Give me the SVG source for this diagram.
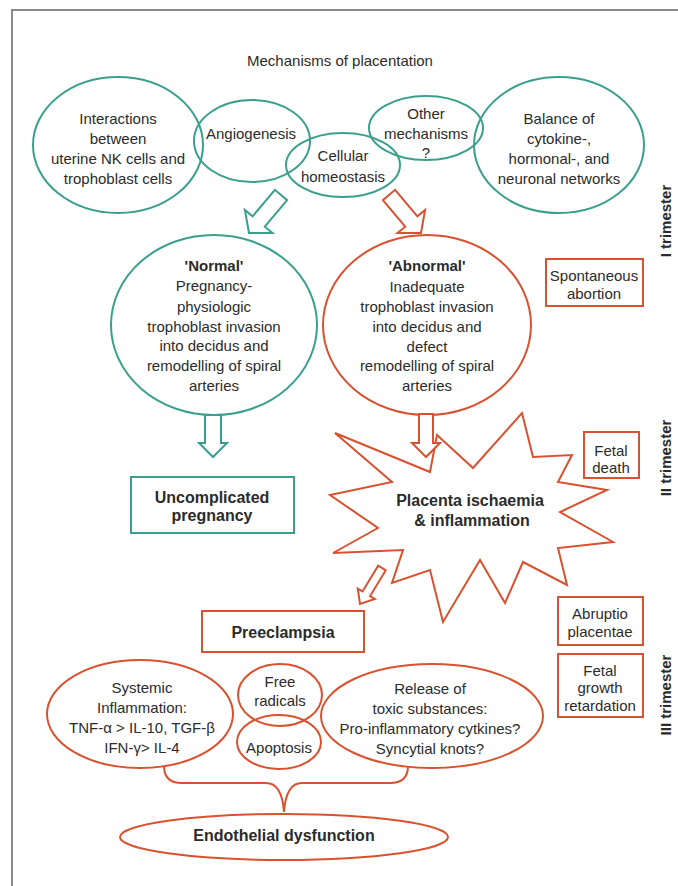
<svg xmlns="http://www.w3.org/2000/svg" width="678" height="886" viewBox="0 0 678 886">
<style>
text{font-family:"Liberation Sans",Arial,sans-serif;fill:#2b2b2b;text-anchor:middle;dominant-baseline:central;font-size:15px}
.b{font-weight:bold;font-size:16px}
.tri{font-weight:bold;font-size:15px}
.teal{fill:none;stroke:#3a9f8e;stroke-width:2}
.red{fill:none;stroke:#d8522f;stroke-width:2}
.redw{fill:#fff;stroke:#d8522f;stroke-width:2}
.tealw{fill:#fff;stroke:#3a9f8e;stroke-width:2}
</style>
<rect width="678" height="886" fill="#fff"/>
<path d="M12,886 L12,10 L678,10" fill="none" stroke="#8a8a8a" stroke-width="2"/>
<text x="340" y="60">Mechanisms of placentation</text>

<g id="interactions">
<ellipse class="teal" cx="118" cy="145" rx="85" ry="68"/>
<text x="118" y="118">Interactions</text>
<text x="118" y="138">between</text>
<text x="118" y="158">uterine NK cells and</text>
<text x="118" y="178">trophoblast cells</text>
</g>
<g id="angiogenesis">
<ellipse class="teal" cx="252" cy="141" rx="58" ry="41"/>
<text x="251" y="133">Angiogenesis</text>
</g>
<g id="cellular">
<ellipse class="teal" cx="343" cy="165" rx="57" ry="32"/>
<text x="343" y="155">Cellular</text>
<text x="343" y="176">homeostasis</text>
</g>
<g id="other">
<ellipse class="teal" cx="426" cy="128" rx="57" ry="32"/>
<text x="426" y="113">Other</text>
<text x="426" y="133">mechanisms</text>
<text x="426" y="152">?</text>
</g>
<g id="balance">
<ellipse class="teal" cx="559" cy="145" rx="85" ry="68"/>
<text x="559" y="118">Balance of</text>
<text x="559" y="138">cytokine-,</text>
<text x="559" y="158">hormonal-, and</text>
<text x="559" y="178">neuronal networks</text>
</g>

<g id="normal">
<ellipse class="teal" cx="214" cy="325" rx="103" ry="90"/>
<text class="b" x="214" y="265" style="font-size:15px">'Normal'</text>
<text x="214" y="285">Pregnancy-</text>
<text x="214" y="306">physiologic</text>
<text x="214" y="326">trophoblast invasion</text>
<text x="214" y="345">into decidus and</text>
<text x="214" y="365">remodelling of spiral</text>
<text x="214" y="385">arteries</text>
</g>
<g id="abnormal">
<ellipse class="red" cx="427" cy="325" rx="104" ry="90"/>
<text class="b" x="427" y="265" style="font-size:15px">'Abnormal'</text>
<text x="427" y="286">Inadequate</text>
<text x="427" y="306">trophoblast invasion</text>
<text x="427" y="326">into decidus and</text>
<text x="427" y="346">defect</text>
<text x="427" y="365">remodelling of spiral</text>
<text x="427" y="385">arteries</text>
</g>

<g id="spontaneous">
<rect class="red" x="546" y="259" width="97" height="47"/>
<text x="594" y="275">Spontaneous</text>
<text x="594" y="293">abortion</text>
</g>

<g id="uncomplicated">
<rect class="teal" x="131" y="477" width="163" height="56"/>
<text class="b" x="212" y="497">Uncomplicated</text>
<text class="b" x="212" y="515">pregnancy</text>
</g>

<g id="ischaemia">
<polygon class="redw" points="335,433 430,472 437,435 473,468 522,413 533,457 572,455 558,482 607,490 560,512 613,542 558,548 567,585 523,562 505,603 480,560 443,622 430,570 392,583 403,550 333,553 378,528 330,495 392,482"/>
<text class="b" x="470" y="500">Placenta ischaemia</text>
<text class="b" x="472" y="520">&amp; inflammation</text>
</g>

<g id="fetaldeath">
<rect class="red" x="584" y="432" width="55" height="46"/>
<text x="611" y="450">Fetal</text>
<text x="611" y="467">death</text>
</g>

<g id="preeclampsia">
<rect class="red" x="202" y="611" width="162" height="41"/>
<text class="b" x="283" y="632">Preeclampsia</text>
</g>

<g id="abruptio">
<rect class="red" x="558" y="597" width="85" height="48"/>
<text x="600" y="613">Abruptio</text>
<text x="600" y="631">placentae</text>
</g>

<g id="fgr">
<rect class="red" x="558" y="654" width="85" height="63"/>
<text x="600" y="670">Fetal</text>
<text x="600" y="687">growth</text>
<text x="600" y="705">retardation</text>
</g>

<g id="systemic">
<ellipse class="red" cx="140" cy="714" rx="93" ry="54"/>
<text x="142" y="687">Systemic</text>
<text x="142" y="707">Inflammation:</text>
<text x="142" y="727">TNF-α &gt; IL-10, TGF-β</text>
<text x="142" y="747">IFN-γ&gt; IL-4</text>
</g>
<g id="freeradicals">
<ellipse class="red" cx="280" cy="695" rx="42" ry="31"/>
<text x="280" y="681">Free</text>
<text x="280" y="700">radicals</text>
</g>
<g id="apoptosis">
<ellipse class="red" cx="279" cy="742" rx="42" ry="27"/>
<text x="279" y="747">Apoptosis</text>
</g>
<g id="release">
<ellipse class="red" cx="432" cy="716" rx="111" ry="52"/>
<text x="430" y="688">Release of</text>
<text x="430" y="708">toxic substances:</text>
<text x="430" y="728">Pro-inflammatory cytkines?</text>
<text x="430" y="748">Syncytial knots?</text>
</g>
<g id="endothelial">
<ellipse class="red" cx="284" cy="837" rx="164" ry="23"/>
<text class="b" x="284" y="835">Endothelial dysfunction</text>
</g>

<g id="trimesters">
<text class="tri" transform="translate(665,221) rotate(-90)">I trimester</text>
<text class="tri" transform="translate(665,458) rotate(-90)">II trimester</text>
<text class="tri" transform="translate(665,695) rotate(-90)">III trimester</text>
</g>

<g id="connectors">
<polygon class="tealw" points="287.1,200.2 264.8,226.7 272.5,233.1 249,233 244.9,209.9 252.6,216.3 274.9,189.8"/>
<polygon class="redw" points="395.1,189.8 417.4,216.3 425.1,209.9 421,233 397.5,233.1 405.2,226.7 382.9,200.2"/>
<polygon class="tealw" points="205,415 205,443 199,443 213,457 227,443 221,443 221,415"/>
<polygon class="redw" points="419,414 419,443 412,443 426,457 440,443 433,443 433,414"/>
<polygon class="redw" points="385.8,570.3 370.1,596.1 374.8,599 360,604 357.8,588.6 362.5,591.4 378.2,565.7"/>
<path class="red" d="M164,766 Q164,783 182,783 L266,783 Q282,783 284,812 Q286,783 302,783 L390,783 Q408,783 408,766"/>
</g>
</svg>
